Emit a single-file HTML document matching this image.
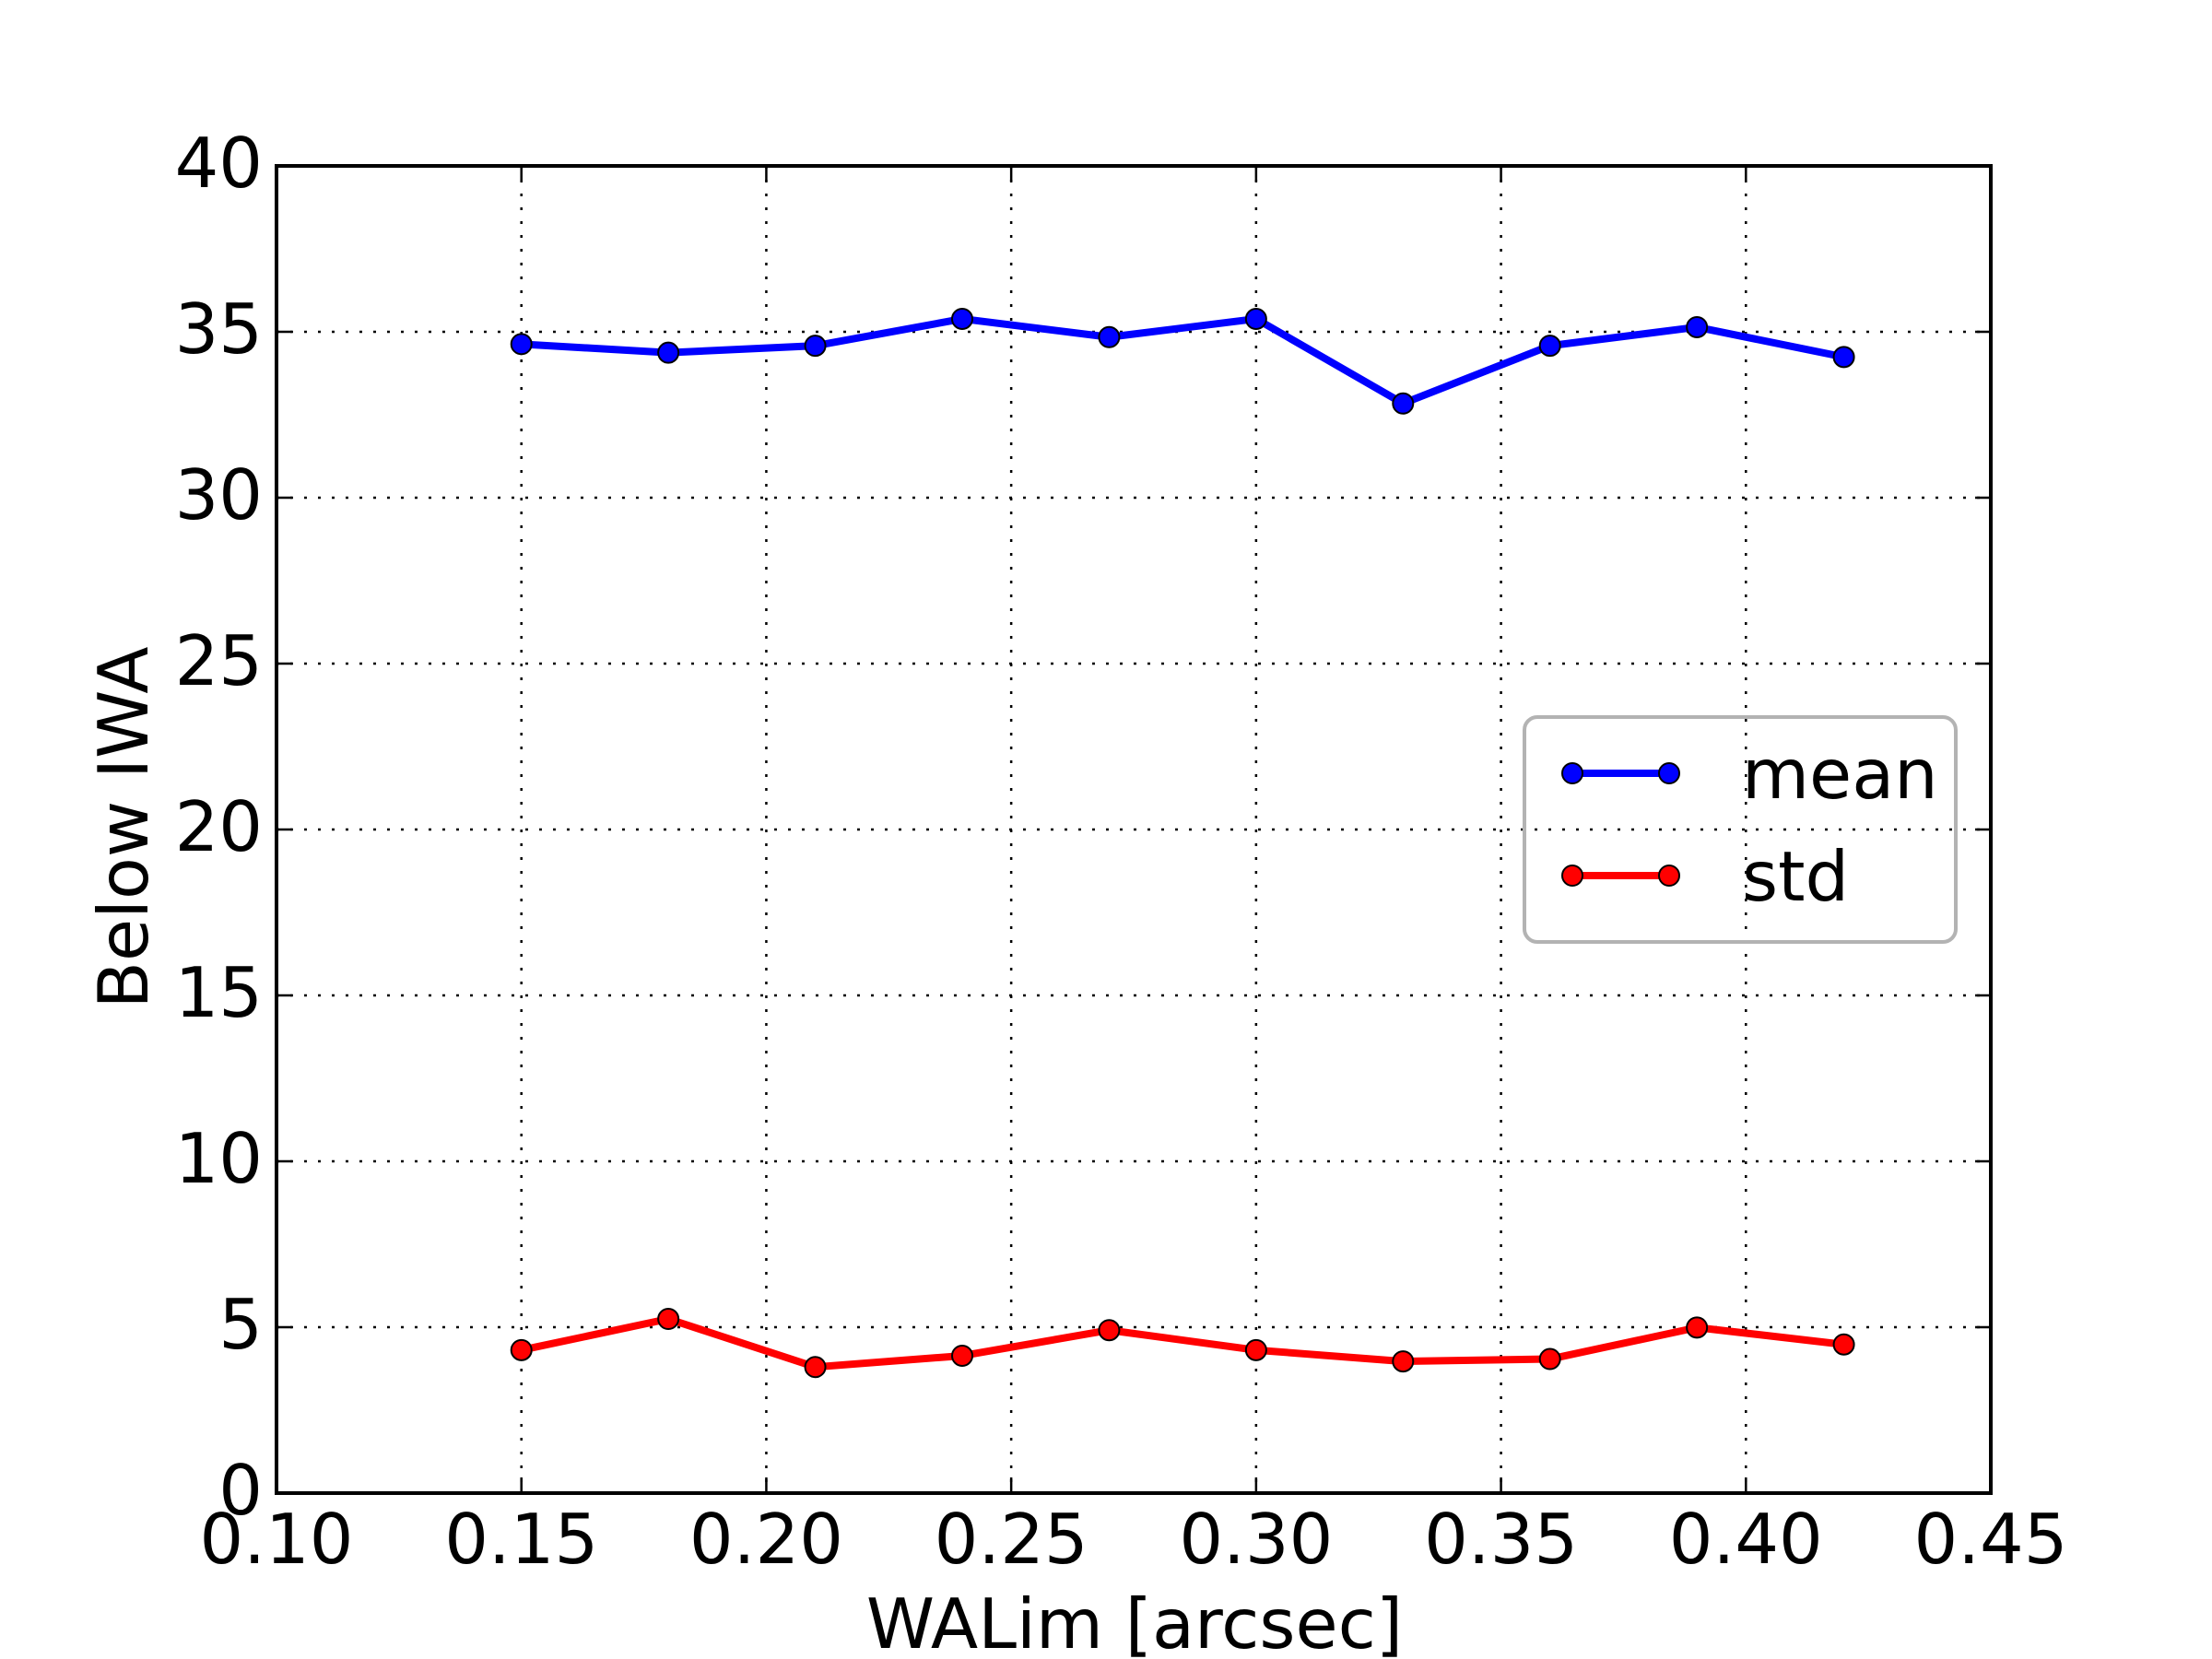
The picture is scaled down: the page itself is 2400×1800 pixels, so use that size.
<!DOCTYPE html>
<html>
<head>
<meta charset="utf-8">
<style>
html,body{margin:0;padding:0;background:#fff;}
svg{display:block;}
text{font-family:"DejaVu Sans","Liberation Sans",sans-serif;fill:#000;}
</style>
</head>
<body>
<svg id="chart" width="2400" height="1800" viewBox="0 0 2400 1800" xmlns="http://www.w3.org/2000/svg">
  <rect x="0" y="0" width="2400" height="1800" fill="#fff"/>
  <g id="grid"></g>
  <g id="series"></g>
  <rect x="300" y="180" width="1860" height="1440" fill="none" stroke="#000" stroke-width="4"/>
  <g id="ticks"></g>
  <text x="1231" y="1788" font-size="75" text-anchor="middle">WALim [arcsec]</text>
  <text x="0" y="0" font-size="75" text-anchor="middle" transform="translate(160,898) rotate(-90)">Below IWA</text>
  <g id="legend">
    <rect x="1654" y="778" width="468" height="244" rx="14" ry="14" fill="none" stroke="#b3b3b3" stroke-width="4"/>
    <g>
      <line x1="1706" y1="839" x2="1811" y2="839" stroke="#0000ff" stroke-width="8"/>
      <ellipse cx="1706" cy="839" rx="11" ry="11" fill="#0000ff" stroke="#000" stroke-width="2"/>
      <ellipse cx="1811" cy="839" rx="11" ry="11" fill="#0000ff" stroke="#000" stroke-width="2"/>
      <text x="1890" y="866" font-size="75">mean</text>
    </g>
    <g>
      <line x1="1706" y1="950" x2="1811" y2="950" stroke="#ff0000" stroke-width="8"/>
      <ellipse cx="1706" cy="950" rx="11" ry="11" fill="#ff0000" stroke="#000" stroke-width="2"/>
      <ellipse cx="1811" cy="950" rx="11" ry="11" fill="#ff0000" stroke="#000" stroke-width="2"/>
      <text x="1890" y="977" font-size="75">std</text>
    </g>
  </g>
</svg>
<script>
const categories = [0.15, 0.18, 0.21, 0.24, 0.27, 0.30, 0.33, 0.36, 0.39, 0.42];
const meanValues = [34.63, 34.37, 34.58, 35.39, 34.84, 35.39, 32.84, 34.58, 35.14, 34.24];
const stdValues = [4.31, 5.25, 3.80, 4.14, 4.91, 4.31, 3.97, 4.04, 4.99, 4.48];
const xTickValues = [0.10, 0.15, 0.20, 0.25, 0.30, 0.35, 0.40, 0.45];
const xTickLabels = ["0.10", "0.15", "0.20", "0.25", "0.30", "0.35", "0.40", "0.45"];
const yTickValues = [0, 5, 10, 15, 20, 25, 30, 35, 40];
const yTickLabels = ["0", "5", "10", "15", "20", "25", "30", "35", "40"];

const NS = "http://www.w3.org/2000/svg";
const X0 = 300, X1 = 2160, Y0 = 1620, Y1 = 180;
const xMin = 0.10, xMax = 0.45, yMin = 0, yMax = 40;
function xs(v) { return X0 + (v - xMin) / (xMax - xMin) * (X1 - X0); }
function ys(v) { return Y0 - (v - yMin) / (yMax - yMin) * (Y0 - Y1); }
function mk(tag, attrs, parent) {
  const e = document.createElementNS(NS, tag);
  for (const k in attrs) e.setAttribute(k, attrs[k]);
  parent.appendChild(e);
  return e;
}
const grid = document.getElementById('grid');
const ticks = document.getElementById('ticks');
const series = document.getElementById('series');

xTickValues.forEach((v, i) => {
  const x = xs(v);
  if (i > 0 && i < xTickValues.length - 1) {
    const g = mk('line', {x1: x, y1: Y1, x2: x, y2: Y0, stroke: '#000', 'stroke-width': 2.5, 'stroke-dasharray': '3 12'}, grid);
    
    
  }
  const t1 = mk('line', {x1: x, y1: Y0, x2: x, y2: Y0 - 17, stroke: '#000', 'stroke-width': 2.5}, ticks);
  
  
  const t2 = mk('line', {x1: x, y1: Y1, x2: x, y2: Y1 + 17, stroke: '#000', 'stroke-width': 2.5}, ticks);
  
  
  const lb = mk('text', {x: x, y: 1696, 'font-size': 75, 'text-anchor': 'middle'}, ticks);
  lb.textContent = xTickLabels[i];
  
  
});
yTickValues.forEach((v, i) => {
  const y = ys(v);
  if (i > 0 && i < yTickValues.length - 1) {
    const g = mk('line', {x1: X0, y1: y, x2: X1, y2: y, stroke: '#000', 'stroke-width': 2.5, 'stroke-dasharray': '3 12'}, grid);
    
    
  }
  const t1 = mk('line', {x1: X0, y1: y, x2: X0 + 17, y2: y, stroke: '#000', 'stroke-width': 2.5}, ticks);
  
  
  const t2 = mk('line', {x1: X1, y1: y, x2: X1 - 17, y2: y, stroke: '#000', 'stroke-width': 2.5}, ticks);
  
  
  const lb = mk('text', {x: 285, y: y + 23, 'font-size': 75, 'text-anchor': 'end'}, ticks);
  lb.textContent = yTickLabels[i];
  
  
});

function drawSeries(vals, color, name) {
  const pts = categories.map((c, i) => xs(c) + ',' + ys(vals[i])).join(' ');
  const pl = mk('polyline', {points: pts, fill: 'none', stroke: color, 'stroke-width': 8, 'stroke-linejoin': 'round'}, series);
  
  
  categories.forEach((c, i) => {
    const m = mk('circle', {cx: xs(c), cy: ys(vals[i]), r: 11, fill: color, stroke: '#000', 'stroke-width': 2}, series);
    
    
  });
}
drawSeries(meanValues, '#0000ff', 'mean');
drawSeries(stdValues, '#ff0000', 'std');
</script>
</body>
</html>
